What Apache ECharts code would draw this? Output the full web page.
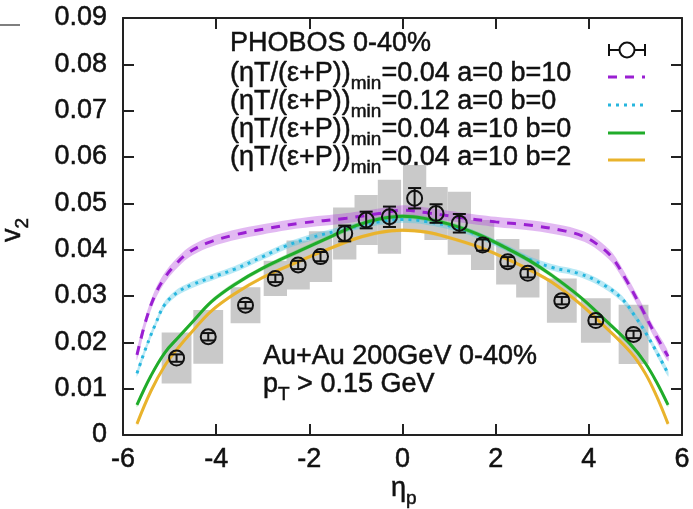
<!DOCTYPE html>
<html><head><meta charset="utf-8">
<script src="https://cdn.jsdelivr.net/npm/echarts@6/dist/echarts.min.js"></script>
<style>html,body{margin:0;padding:0;background:#fff}#c{width:693px;height:509px}</style>
</head><body><div id="c"></div>
<script>
// ---- data ----
const xTickLabels = ['-6','-4','-2','0','2','4','6'];
const yTickLabels = ['0','0.01','0.02','0.03','0.04','0.05','0.06','0.07','0.08','0.09'];

const phobosEta  = [-4.85,-4.17,-3.37,-2.73,-2.24,-1.76,-1.24,-0.78,-0.28,0.26,0.72,1.22,1.72,2.26,2.69,3.42,4.15,4.96];
const phobosV2   = [0.0166,0.0212,0.0280,0.0338,0.0367,0.0385,0.0435,0.0464,0.0471,0.0511,0.0478,0.0457,0.0410,0.0374,0.0349,0.0290,0.0247,0.0217];
const phobosStat = [0.0008,0.0008,0.0007,0.0008,0.0009,0.0010,0.0017,0.0018,0.0022,0.0022,0.0020,0.0020,0.0012,0.0010,0.0009,0.0008,0.0008,0.0008];
const phobosSys  = [0.0055,0.0058,0.0039,0.0038,0.0053,0.0055,0.0056,0.0054,0.0080,0.0072,0.0057,0.0068,0.0054,0.0049,0.0052,0.0048,0.0048,0.0064];

// a=0 b=10, (eta T/(e+P))min = 0.04
const purpleEta = [-5.7,-5.5,-5.3,-5.1,-4.9,-4.6,-4.2,-3.6,-3.0,-2.2,-1.2,-0.5,0,0.5,1.2,2.0,2.8,3.5,3.9,4.2,4.5,4.8,5.1,5.4,5.7];
const purpleV2  = [0.0173,0.0250,0.0305,0.0340,0.0365,0.0393,0.0414,0.0432,0.0444,0.0457,0.0468,0.0478,0.0485,0.0480,0.0470,0.0460,0.0452,0.0440,0.0428,0.0410,0.0383,0.0335,0.0280,0.0222,0.0170];
const purpleBand = 0.0011;

// a=0 b=0, min = 0.12
const cyanEta = [-5.7,-5.5,-5.3,-5.1,-4.8,-4.5,-4.1,-3.6,-3.0,-2.5,-2.0,-1.2,-0.5,0,0.5,1.2,1.7,2.2,2.7,3.2,3.8,4.3,4.7,5.0,5.3,5.7];
const cyanV2  = [0.0133,0.0190,0.0240,0.0282,0.0310,0.0325,0.0340,0.0358,0.0385,0.0408,0.0425,0.0445,0.0460,0.0465,0.0461,0.0446,0.0428,0.0405,0.0380,0.0362,0.0348,0.0325,0.0295,0.0255,0.0207,0.0133];
const cyanBand = 0.0007;

// a=10 b=0, min = 0.04
const greenEta = [-5.7,-5.4,-5.1,-4.8,-4.5,-4.1,-3.6,-3.0,-2.2,-1.5,-1.0,-0.5,0,0.5,1.0,1.6,2.2,2.7,3.2,3.8,4.3,4.9,5.2,5.45,5.7];
const greenV2  = [0.0065,0.0128,0.0178,0.0212,0.0245,0.0288,0.0325,0.0360,0.0398,0.0430,0.0452,0.0466,0.0472,0.0467,0.0455,0.0434,0.0405,0.0378,0.0345,0.0299,0.0253,0.0195,0.0157,0.0115,0.0065];
const greenBand = 0.0005;

// a=10 b=2, min = 0.04
const orangeEta = [-5.7,-5.4,-5.1,-4.8,-4.5,-4.1,-3.6,-3.0,-2.2,-1.5,-1.0,-0.5,0,0.5,1.0,1.6,2.2,2.7,3.2,3.8,4.3,4.9,5.2,5.45,5.7];
const orangeV2  = [0.0024,0.0095,0.0150,0.0190,0.0225,0.0268,0.0305,0.0340,0.0376,0.0405,0.0424,0.0437,0.0442,0.0438,0.0426,0.0407,0.0382,0.0358,0.0330,0.0284,0.0238,0.0178,0.0135,0.0085,0.0024];
const orangeBand = 0.0004;

// ---- chart ----
const FONT = "'Liberation Sans', Arial, Helvetica, sans-serif";
const FS = 27;
const AX = '#222';
const TXT = '#111';
const chart = echarts.init(document.getElementById('c'), null, {renderer:'canvas'});

const curves = [
  {name:'a0b10', eta:purpleEta, v:purpleV2, w:purpleBand, line:'#9a1fd2', band:'rgba(178,70,220,0.38)', type:[9,8], width:3},
  {name:'a0b0',  eta:cyanEta,   v:cyanV2,   w:cyanBand,   line:'#27b6de', band:'rgba(80,200,230,0.40)', type:[3,5], width:3},
  {name:'a10b0', eta:greenEta,  v:greenV2,  w:greenBand,  line:'#20ac2a', band:'rgba(60,200,60,0.35)', type:'solid', width:3},
  {name:'a10b2', eta:orangeEta, v:orangeV2, w:orangeBand, line:'#e9b32c', band:'rgba(240,190,60,0.40)', type:'solid', width:3}
];

const series = [];
// systematic boxes
series.push({
  type:'custom', z:1, silent:true,
  data: phobosEta.map((e,i)=>[e, phobosV2[i], phobosSys[i]]),
  renderItem:(params, api)=>{
    const x = api.value(0), y = api.value(1), s = api.value(2);
    const hw = Math.abs(x) > 3 ? 0.32 : 0.25;
    const p1 = api.coord([x-hw, y+s]), p2 = api.coord([x+hw, y-s]);
    return {type:'rect', shape:{x:p1[0], y:p1[1], width:p2[0]-p1[0], height:p2[1]-p1[1]}, style:{fill:'#c9c9c9'}};
  }
});
// uncertainty bands
curves.forEach((c)=>{
  series.push({type:'custom', z:2, silent:true,
    data:c.eta.map((e,i)=>[e, c.v[i]-c.w, c.v[i]+c.w]),
    renderItem:(params, api)=>{
      if (params.dataIndexInside !== 0) return null;
      const n = params.dataInsideLength;
      const up = [], lo = [];
      for (let i=0;i<n;i++){
        up.push(api.coord([api.value(0,i), api.value(2,i)]));
        lo.push(api.coord([api.value(0,i), api.value(1,i)]));
      }
      return {type:'polygon', shape:{points:up.concat(lo.reverse()), smooth:0.3}, style:{fill:c.band}};
    }
  });
});
// central lines
curves.forEach((c)=>{
  series.push({type:'line', name:c.name, z:3, silent:true, symbol:'none', smooth:0.4,
    data:c.eta.map((e,i)=>[e, c.v[i]]), lineStyle:{color:c.line, width:c.width, type:c.type}});
});
// PHOBOS points
series.push({
  type:'custom', z:5, silent:true,
  data: phobosEta.map((e,i)=>[e, phobosV2[i], phobosStat[i]]),
  renderItem:(params, api)=>{
    const x = api.value(0), y = api.value(1), e = api.value(2);
    const p = api.coord([x,y]), t = api.coord([x,y+e]), b = api.coord([x,y-e]);
    const st = {stroke:'#111', lineWidth:2, fill:null};
    return {type:'group', children:[
      {type:'line', shape:{x1:p[0], y1:t[1], x2:p[0], y2:b[1]}, style:st},
      {type:'line', shape:{x1:p[0]-6.5, y1:t[1], x2:p[0]+6.5, y2:t[1]}, style:st},
      {type:'line', shape:{x1:p[0]-6.5, y1:b[1], x2:p[0]+6.5, y2:b[1]}, style:st},
      {type:'circle', shape:{cx:p[0], cy:p[1], r:7.5}, style:{stroke:'#111', lineWidth:2, fill:'rgba(0,0,0,0)'}}
    ]};
  }
});

const legendRows = [
  '{m|(ηT/(ε+P))}{s|min}{m|=0.04 a=0 b=10}',
  '{m|(ηT/(ε+P))}{s|min}{m|=0.12 a=0 b=0}',
  '{m|(ηT/(ε+P))}{s|min}{m|=0.04 a=10 b=0}',
  '{m|(ηT/(ε+P))}{s|min}{m|=0.04 a=10 b=2}'
];
const rowY = [73.5, 101.5, 129.5, 157.5];
const sampleY = [77, 105, 133, 160];
const TB = {stroke:TXT, lineWidth:0.5};
const richStyle = {
  m:Object.assign({fontSize:FS, fontFamily:FONT, fill:TXT}, TB),
  s:Object.assign({fontSize:19, fontFamily:FONT, fill:TXT, padding:[20,0,0,0]}, TB)
};
function txt(x, y, text, extra){
  return Object.assign({type:'text', x:x, y:y, z:10,
    style:Object.assign({text:text, font:FS+'px '+FONT, fill:TXT, verticalAlign:'middle', rich:richStyle}, TB)}, extra||{});
}
const graphic = [];
graphic.push({type:'line', shape:{x1:0,y1:25,x2:20,y2:25}, style:{stroke:'#555', lineWidth:1.5}});
graphic.push(txt(230, 44, 'PHOBOS 0-40%'));
legendRows.forEach((t,i)=>{
  graphic.push(txt(230, rowY[i], t));
  const c = curves[i];
  graphic.push({type:'line', z:10, shape:{x1:608, y1:sampleY[i], x2:645, y2:sampleY[i]},
    style:{stroke:c.line, lineWidth:c.width, lineDash: c.type==='solid'?null:c.type}});
});
// PHOBOS legend symbol
const ls = {stroke:'#111', lineWidth:2};
graphic.push({type:'line', z:10, shape:{x1:609,y1:50,x2:645,y2:50}, style:ls});
graphic.push({type:'line', z:10, shape:{x1:609,y1:44,x2:609,y2:56}, style:ls});
graphic.push({type:'line', z:10, shape:{x1:645,y1:44,x2:645,y2:56}, style:ls});
graphic.push({type:'circle', z:10, shape:{cx:627,cy:50,r:7.5}, style:{stroke:'#111', lineWidth:2, fill:'#fff'}});
// annotations
graphic.push(txt(263, 357, 'Au+Au 200GeV 0-40%'));
graphic.push(txt(263, 385, '{m|p}{s|T}{m| > 0.15 GeV}'));
// axis titles
graphic.push(txt(391, 489, '{m|η}{s|p}'));
graphic.push(txt(13, 242, '{m|v}{s|2}', {rotation:Math.PI/2}));

const axisCommon = {
  axisLine:{show:true, onZero:false, lineStyle:{color:AX, width:2}},
  axisTick:{show:true, inside:true, length:11, lineStyle:{color:AX, width:2}},
  splitLine:{show:false}
};
const xMin = Number(xTickLabels[0]), xMax = Number(xTickLabels[xTickLabels.length-1]);
const yMin = Number(yTickLabels[0]), yMax = Number(yTickLabels[yTickLabels.length-1]);
const labelCommon = {color:TXT, fontSize:FS, fontFamily:FONT, textBorderColor:TXT, textBorderWidth:0.5};
chart.setOption({
  animation:false,
  backgroundColor:'#fff',
  grid:{left:123, right:11, top:18, bottom:74, containLabel:false},
  xAxis:[
    Object.assign({type:'value', min:xMin, max:xMax, interval:2, position:'bottom',
      axisLabel:Object.assign({margin:11, formatter:v=>{const k=xTickLabels.indexOf(String(Math.round(v))); return k>=0?xTickLabels[k]:String(v);}}, labelCommon)}, axisCommon),
    Object.assign({type:'value', min:xMin, max:xMax, interval:2, position:'top', axisLabel:{show:false}}, axisCommon)
  ],
  yAxis:[
    Object.assign({type:'value', min:yMin, max:yMax, interval:0.01, position:'left',
      axisLabel:Object.assign({margin:16, formatter:v=>yTickLabels[Math.round(v*100)]}, labelCommon)}, axisCommon),
    Object.assign({type:'value', min:yMin, max:yMax, interval:0.01, position:'right', axisLabel:{show:false}}, axisCommon)
  ],
  graphic: graphic,
  series: series
});
</script></body></html>
